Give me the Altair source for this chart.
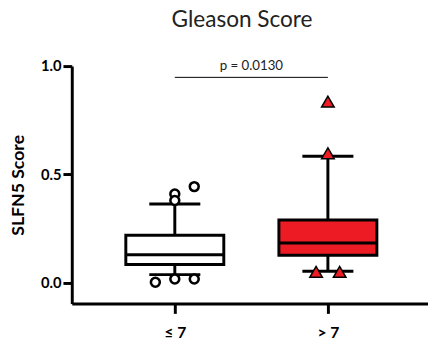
import altair as alt
import pandas as pd

# ---- data ----
categories = ["≤ 7", "> 7"]
q1 = [0.085, 0.127]
median = [0.130, 0.184]
q3 = [0.220, 0.290]
whisker_low = [0.038, 0.054]
whisker_high = [0.364, 0.584]

low_outliers = [0.41, 0.444, 0.38, 0.003, 0.018, 0.018]
low_slots = [0, 1, 0, -1, 0, 1]
high_outliers = [0.836, 0.598, 0.051, 0.051]
high_slots = [0, 0, -1, 1]

p_label = "p = 0.0130"
p_level = 0.948

# ---- style constants ----
FONT = "Lato"
RED = "#ED1C24"
BOX_HALF = 0.32
CIRCLE_STEP = 0.127
TRI_STEP = 0.077

boxes = pd.DataFrame({
    "cat": categories,
    "pos": [1, 2],
    "q1": q1, "median": median, "q3": q3,
    "wlo": whisker_low, "whi": whisker_high,
    "fill": ["white", RED],
})

circ = pd.DataFrame({"value": low_outliers, "slot": low_slots, "pos": 1})
tri = pd.DataFrame({"value": high_outliers, "slot": high_slots, "pos": 2})
sig = pd.DataFrame({"x1": [1.0], "x2": [2.0], "y": [p_level], "label": [p_label]})

xscale = alt.Scale(domain=[0.327, 2.654], nice=False, zero=False)
yscale = alt.Scale(domain=[-0.0955, 1.0], nice=False, zero=False)

label_expr = "['" + categories[0] + "','" + categories[1] + "'][datum.value - 1]"

xaxis = alt.Axis(values=[1, 2], labelExpr=label_expr, title=None, grid=False,
                 domainColor="black", domainWidth=3, tickColor="black", tickWidth=3,
                 tickSize=10, labelFont=FONT, labelFontSize=16, labelFontWeight="bold",
                 labelColor="black", labelPadding=12)
yaxis = alt.Axis(values=[0, 0.5, 1.0], format=".1f", title="SLFN5 Score", grid=False,
                 domainColor="black", domainWidth=3, tickColor="black", tickWidth=3,
                 tickSize=9, labelFont=FONT, labelFontSize=15, labelFontWeight="bold",
                 labelColor="black", labelPadding=2,
                 titleFont=FONT, titleFontSize=18, titleFontWeight="bold", titleColor="black",
                 titleX=-54, titleY=121, titleAngle=270, titleBaseline="middle",
                 titleAlign="center")

base = alt.Chart(boxes)

whisk_lo = base.mark_rule(color="black", strokeWidth=3, opacity=1).encode(
    x=alt.X("pos:Q", scale=xscale, axis=xaxis),
    y=alt.Y("wlo:Q", scale=yscale, axis=yaxis),
    y2="q1:Q",
)
whisk_hi = base.mark_rule(color="black", strokeWidth=3, opacity=1).encode(
    x="pos:Q", y="q3:Q", y2="whi:Q")

box = base.transform_calculate(
    xa=f"datum.pos - {BOX_HALF}", xb=f"datum.pos + {BOX_HALF}"
).mark_rect(stroke="black", strokeWidth=3, opacity=1).encode(
    x="xa:Q", x2="xb:Q", y="q1:Q", y2="q3:Q",
    fill=alt.Fill("fill:N", scale=None),
)

med = base.mark_tick(orient="horizontal", size=100, thickness=3, color="black",
                     opacity=1).encode(x="pos:Q", y="median:Q")
cap_lo = base.mark_tick(orient="horizontal", size=52, thickness=3, color="black",
                        opacity=1).encode(x="pos:Q", y="wlo:Q")
cap_hi = base.mark_tick(orient="horizontal", size=52, thickness=3, color="black",
                        opacity=1).encode(x="pos:Q", y="whi:Q")

circles = alt.Chart(circ).transform_calculate(
    xp=f"datum.pos + datum.slot * {CIRCLE_STEP}"
).mark_point(shape="circle", size=82, filled=False, stroke="black", strokeWidth=2.6,
             fill="white", fillOpacity=1, opacity=1).encode(
    x="xp:Q", y="value:Q")

triangles = alt.Chart(tri).transform_calculate(
    xp=f"datum.pos + datum.slot * {TRI_STEP}"
).mark_point(shape="triangle-up", size=165, filled=True, fill=RED, stroke="black",
             strokeWidth=1.5, opacity=1).encode(
    x="xp:Q", y="value:Q")

sig_rule = alt.Chart(sig).mark_rule(color="black", strokeWidth=1).encode(
    x="x1:Q", x2="x2:Q", y="y:Q")
sig_text = alt.Chart(sig).transform_calculate(
    xm="(datum.x1 + datum.x2) / 2", yt="datum.y + 0.034"
).mark_text(font=FONT, fontSize=13.5, color="#222", baseline="alphabetic").encode(
    x="xm:Q", y="yt:Q", text="label:N")

chart = alt.layer(
    whisk_lo, whisk_hi, box, med, cap_lo, cap_hi, circles, triangles, sig_rule, sig_text
).properties(
    width=363, height=242,
    background="white",
    title=alt.TitleParams("Gleason Score", font=FONT, fontSize=23, fontWeight="normal",
                          color="#222", anchor="middle", dx=-8, baseline="alphabetic",
                          offset=10),
    autosize=alt.AutoSizeParams(type="none"),
    padding={"left": 65, "top": 56, "right": 0, "bottom": 38},
).configure_view(stroke=None, strokeWidth=0).configure_axis(grid=False)

chart.save("out.html", embed_options={"renderer": "svg", "actions": False})
